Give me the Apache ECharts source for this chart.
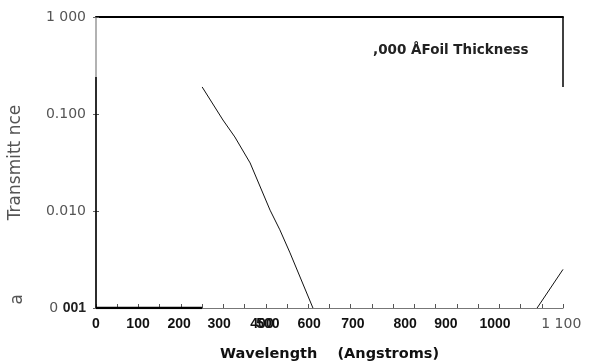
<!DOCTYPE html>
<html>
<head>
<meta charset="utf-8">
<script src="https://cdn.jsdelivr.net/npm/echarts@6/dist/echarts.min.js"></script>
<style>
  html, body { margin: 0; padding: 0; background: #fff; }
  #main { width: 593px; height: 362px; }
</style>
</head>
<body>
<div id="main"></div>
<script>
// data (x in axis units 0..1100, y transmittance)
var curveX = [250, 299, 327, 363, 410, 433, 457, 511];
var curveY = [0.19, 0.0867, 0.058, 0.0313, 0.0102, 0.0064, 0.0037, 0.001];
var tailX = [1039, 1100];
var tailY = [0.001, 0.0025];
var floorX = [0, 250];
var floorY = [0.001, 0.001];

// tick labels as printed (400 and 500 overlap in the original)
var xLabelText = ['0', '100', '200', '300', '400', '500', '600', '700', '800', '900', '1000', '1 100'];
var xLabelPos = [0, 99, 196, 290, 391, 405, 502, 605, 728, 824, 940, 1096];
var yTicks = [0.001, 0.01, 0.1, 1];
var yTickText = ['0 {b|001}', '0.010', '0.100', '1 000'];

function pairs(xs, ys) {
    return xs.map(function (x, i) { return [x, ys[i]]; });
}

var xTickPos = [];
for (var t = 0; t <= 1100; t += 50) xTickPos.push(t);

var myChart = echarts.init(document.getElementById('main'));

var option = {
    animation: false,
    grid: { left: 96, right: 30, top: 17, bottom: 54, outerBoundsMode: 'none', containLabel: false },
    title: {
        text: ',000 ÅFoil Thickness',
        left: 368, top: 38,
        textStyle: { fontFamily: 'DejaVu Sans', fontSize: 13.5, fontWeight: 'bold', color: '#222' }
    },
    xAxis: [{
        type: 'value', min: 0, max: 1100,
        splitLine: { show: false },
        axisLine: { lineStyle: { color: '#777', width: 1.2 } },
        axisTick: { inside: true, length: 4, customValues: xTickPos, lineStyle: { color: '#555' } },
        axisLabel: {
            customValues: xLabelPos,
            margin: 9,
            fontFamily: 'Liberation Sans', fontSize: 14, fontWeight: 'bold', color: '#111',
            formatter: function (v) {
                var i = xLabelPos.indexOf(v);
                if (i === xLabelText.length - 1) return '{l|' + xLabelText[i] + '}';
                return i >= 0 ? xLabelText[i] : '';
            },
            rich: { l: { fontFamily: 'DejaVu Sans', fontSize: 14, fontWeight: 'normal', color: '#555' } }
        },
        name: 'Wavelength    (Angstroms)',
        nameLocation: 'middle', nameGap: 39,
        nameTextStyle: { fontFamily: 'DejaVu Sans', fontSize: 14.5, fontWeight: 'bold', color: '#111' }
    }, {
        type: 'value', position: 'top', min: 0, max: 1100,
        splitLine: { show: false }, axisTick: { show: false }, axisLabel: { show: false },
        axisLine: { lineStyle: { color: '#000', width: 2 } }
    }],
    yAxis: [{
        type: 'log', logBase: 10, min: 0.001, max: 1,
        splitLine: { show: false },
        axisLine: { show: false },
        axisTick: { show: true, inside: true, length: 3, lineStyle: { color: '#555' } },
        axisLabel: {
            margin: 10,
            fontFamily: 'DejaVu Sans', fontSize: 14, color: '#555',
            formatter: function (v) {
                var i = yTicks.findIndex(function (t) { return Math.abs(Math.log10(t) - Math.log10(v)) < 1e-6; });
                return i >= 0 ? yTickText[i] : '';
            },
            rich: { b: { fontFamily: 'Liberation Sans', fontSize: 14, fontWeight: 'bold', color: '#222' } }
        },
        name: 'Transmitt nce',
        nameLocation: 'middle', nameRotate: 90, nameGap: 72,
        nameTextStyle: { fontFamily: 'DejaVu Sans', fontSize: 17, color: '#555' }
    }, {
        type: 'log', logBase: 10, min: 0.001, max: 1, position: 'right',
        splitLine: { show: false }, axisLabel: { show: false },
        axisLine: { lineStyle: { color: '#999', width: 1.5 } },
        axisTick: { inside: true, length: 3, lineStyle: { color: '#666' } }
    }],
    graphic: [{
        type: 'text', left: 9, top: 294, rotation: Math.PI / 2,
        style: { text: 'a', font: '17px "DejaVu Sans"', fill: '#555' }
    }],
    series: [{
        type: 'line', data: pairs(curveX, curveY),
        showSymbol: false, lineStyle: { color: '#111', width: 1 },
        markLine: {
            silent: true, symbol: 'none', label: { show: false },
            data: [
                [{ coord: [0, 0.001] }, { coord: [0, 0.24] }],
                [{ coord: [1100, 0.19] }, { coord: [1100, 1] }]
            ],
            lineStyle: { color: '#000', width: 1.5, type: 'solid' }
        }
    }, {
        type: 'line', data: pairs(tailX, tailY),
        showSymbol: false, lineStyle: { color: '#111', width: 1 }
    }, {
        type: 'line', data: pairs(floorX, floorY),
        showSymbol: false, lineStyle: { color: '#000', width: 2.5 }
    }]
};

myChart.setOption(option);
</script>
</body>
</html>
